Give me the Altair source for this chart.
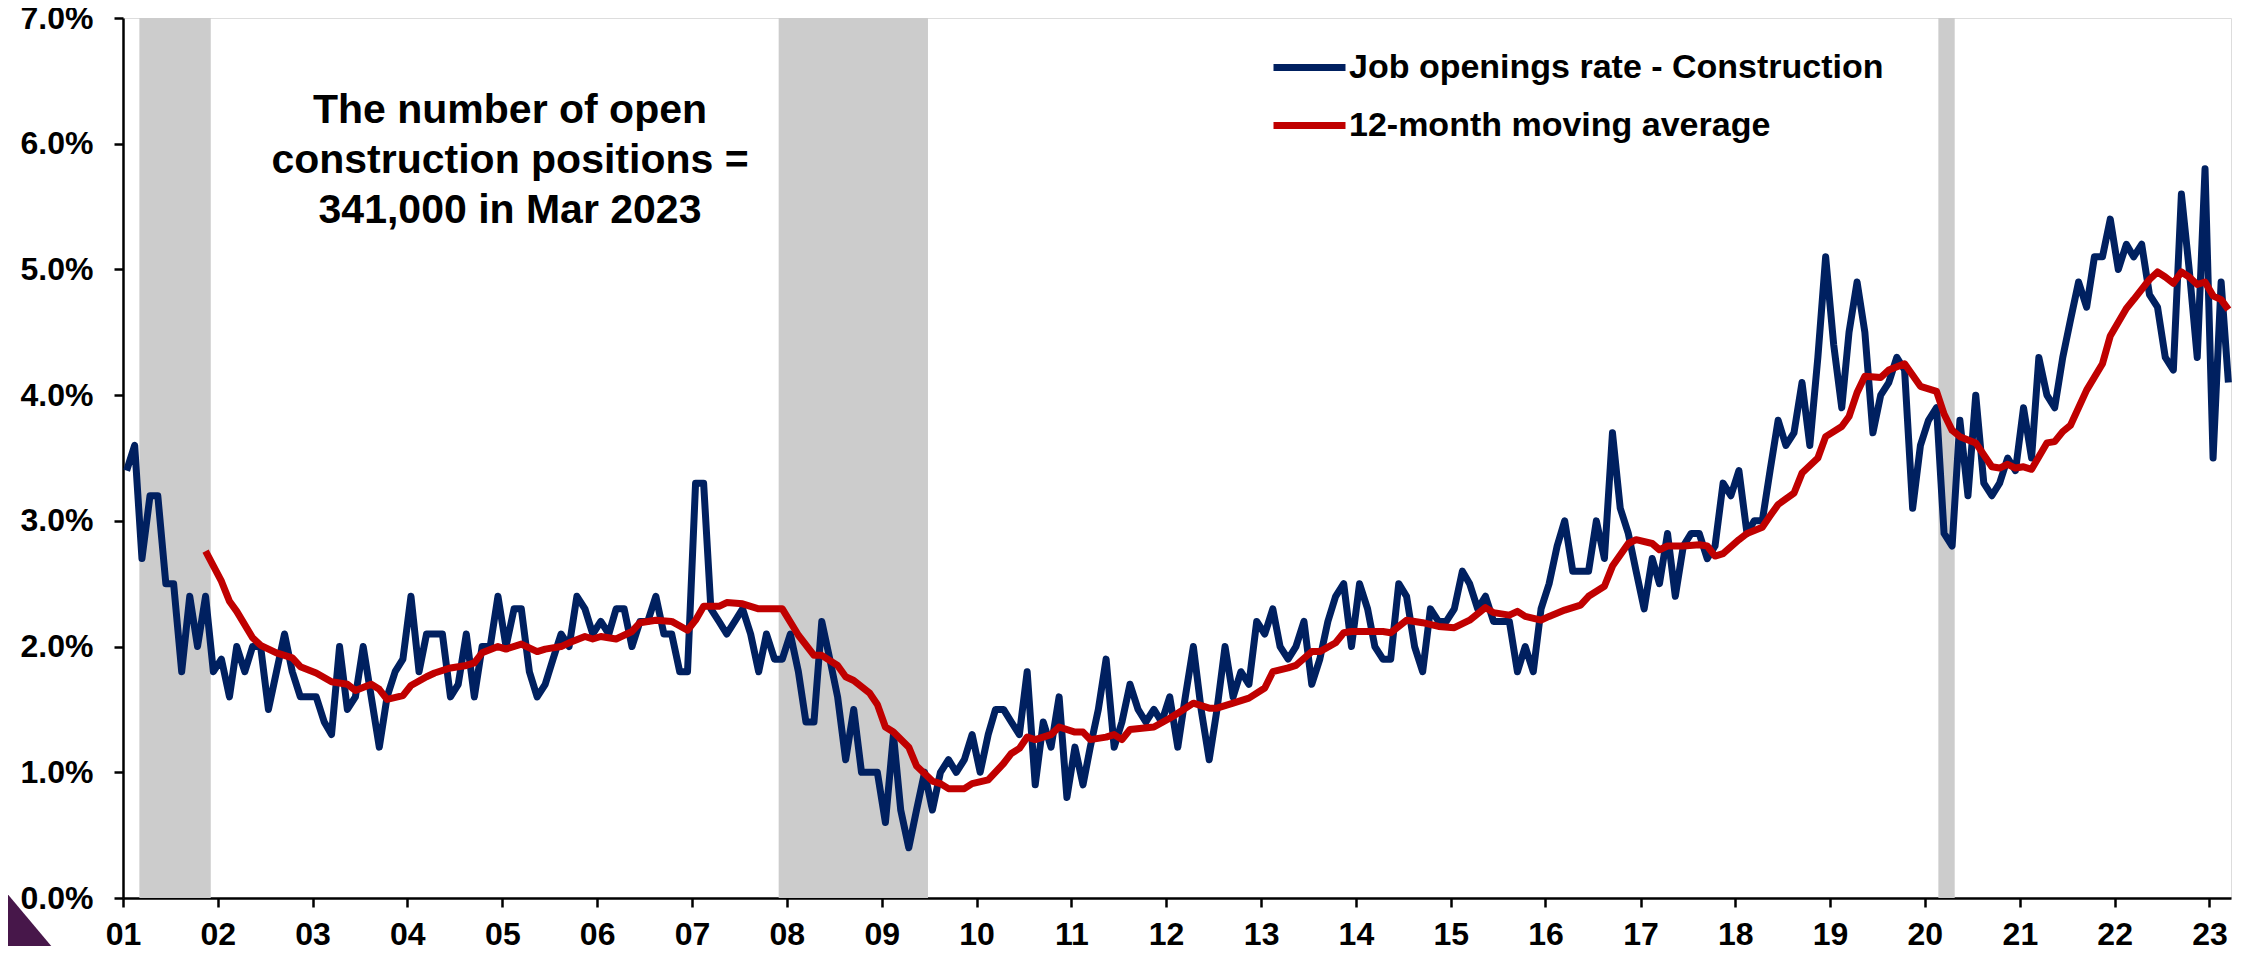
import altair as alt
import pandas as pd

# ---------------- data ----------------
START = "2001-01-01"
blue_values = [
    3.4, 3.6, 2.7, 3.2, 3.2, 2.5, 2.5, 1.8, 2.4, 2.0, 2.4, 1.8,   # 2001
    1.9, 1.6, 2.0, 1.8, 2.0, 2.0, 1.5, 1.8, 2.1, 1.8, 1.6, 1.6,   # 2002
    1.6, 1.4, 1.3, 2.0, 1.5, 1.6, 2.0, 1.6, 1.2, 1.6, 1.8, 1.9,   # 2003
    2.4, 1.8, 2.1, 2.1, 2.1, 1.6, 1.7, 2.1, 1.6, 2.0, 2.0, 2.4,   # 2004
    2.0, 2.3, 2.3, 1.8, 1.6, 1.7, 1.9, 2.1, 2.0, 2.4, 2.3, 2.1,   # 2005
    2.2, 2.1, 2.3, 2.3, 2.0, 2.2, 2.2, 2.4, 2.1, 2.1, 1.8, 1.8,   # 2006
    3.3, 3.3, 2.3, 2.2, 2.1, 2.2, 2.3, 2.1, 1.8, 2.1, 1.9, 1.9,   # 2007
    2.1, 1.8, 1.4, 1.4, 2.2, 1.9, 1.6, 1.1, 1.5, 1.0, 1.0, 1.0,   # 2008
    0.6, 1.3, 0.7, 0.4, 0.7, 1.0, 0.7, 1.0, 1.1, 1.0, 1.1, 1.3,   # 2009
    1.0, 1.3, 1.5, 1.5, 1.4, 1.3, 1.8, 0.9, 1.4, 1.2, 1.6, 0.8,   # 2010
    1.2, 0.9, 1.2, 1.5, 1.9, 1.2, 1.4, 1.7, 1.5, 1.4, 1.5, 1.4,   # 2011
    1.6, 1.2, 1.6, 2.0, 1.5, 1.1, 1.5, 2.0, 1.6, 1.8, 1.7, 2.2,   # 2012
    2.1, 2.3, 2.0, 1.9, 2.0, 2.2, 1.7, 1.9, 2.2, 2.4, 2.5, 2.0,   # 2013
    2.5, 2.3, 2.0, 1.9, 1.9, 2.5, 2.4, 2.0, 1.8, 2.3, 2.2, 2.2,   # 2014
    2.3, 2.6, 2.5, 2.3, 2.4, 2.2, 2.2, 2.2, 1.8, 2.0, 1.8, 2.3,   # 2015
    2.5, 2.8, 3.0, 2.6, 2.6, 2.6, 3.0, 2.7, 3.7, 3.1, 2.9, 2.6,   # 2016
    2.3, 2.7, 2.5, 2.9, 2.4, 2.8, 2.9, 2.9, 2.7, 2.8, 3.3, 3.2,   # 2017
    3.4, 2.9, 3.0, 3.0, 3.4, 3.8, 3.6, 3.7, 4.1, 3.6, 4.3, 5.1,   # 2018
    4.4, 3.9, 4.5, 4.9, 4.5, 3.7, 4.0, 4.1, 4.3, 4.2, 3.1, 3.6,   # 2019
    3.8, 3.9, 2.9, 2.8, 3.8, 3.2, 4.0, 3.3, 3.2, 3.3, 3.5, 3.4,   # 2020
    3.9, 3.5, 4.3, 4.0, 3.9, 4.3, 4.6, 4.9, 4.7, 5.1, 5.1, 5.4,   # 2021
    5.0, 5.2, 5.1, 5.2, 4.8, 4.7, 4.3, 4.2, 5.6, 5.0, 4.3, 5.8,   # 2022
    3.5, 4.9, 4.1,                                                # 2023
]

ma_months = [
    10, 12, 13, 14, 16, 17, 19, 21, 22, 24, 26, 28, 29, 31, 32, 33, 35, 36, 38, 39,
    41, 43, 44, 45, 47, 48, 50, 52, 53, 55, 56, 58, 59, 60, 62, 64, 65, 67, 69, 71,
    72, 73, 75, 76, 78, 80, 83, 85, 87, 88, 90, 91, 92, 94, 95, 96, 97, 99, 100, 102,
    103, 104, 106, 107, 109, 111, 112, 113, 114, 115, 117, 118, 120, 121, 122, 124, 125, 126, 127, 130,
    132, 133, 135, 137, 138, 140, 142, 144, 145, 147, 148, 150, 151, 153, 154, 155, 157, 159, 160, 162,
    164, 166, 168, 170, 172, 173, 175, 176, 177, 179, 180, 182, 184, 185, 187, 188, 190, 191, 193, 194,
    195, 197, 199, 200, 201, 202, 204, 205, 207, 208, 209, 211, 212, 214, 215, 217, 218, 219, 220, 222,
    223, 225, 227, 229, 230, 231, 232, 234, 236, 237, 238, 239, 240, 241, 243, 244, 245, 246, 248, 250,
    251, 253, 254, 256, 257, 258, 259, 260, 261, 262, 263, 264, 265, 266,
]
ma_values = [
    2.76, 2.52, 2.36, 2.28, 2.07, 2.01, 1.95, 1.91, 1.84, 1.79, 1.72, 1.70, 1.65, 1.70, 1.66, 1.58, 1.61, 1.69, 1.76, 1.79,
    1.83, 1.85, 1.87, 1.95, 2.00, 1.98, 2.02, 1.96, 1.98, 2.00, 2.03, 2.08, 2.06, 2.08, 2.06, 2.12, 2.19, 2.21, 2.20, 2.13,
    2.21, 2.32, 2.32, 2.35, 2.34, 2.30, 2.30, 2.09, 1.93, 1.93, 1.85, 1.76, 1.73, 1.63, 1.54, 1.36, 1.32, 1.20, 1.05, 0.93,
    0.91, 0.87, 0.87, 0.91, 0.94, 1.07, 1.15, 1.19, 1.28, 1.26, 1.30, 1.36, 1.32, 1.32, 1.26, 1.28, 1.30, 1.26, 1.34, 1.36,
    1.43, 1.47, 1.55, 1.51, 1.51, 1.55, 1.59, 1.67, 1.80, 1.83, 1.85, 1.96, 1.96, 2.03, 2.11, 2.12, 2.12, 2.12, 2.11, 2.21,
    2.19, 2.16, 2.15, 2.21, 2.31, 2.27, 2.25, 2.28, 2.24, 2.21, 2.24, 2.29, 2.33, 2.40, 2.48, 2.64, 2.82, 2.85, 2.82, 2.77,
    2.80, 2.80, 2.81, 2.80, 2.72, 2.74, 2.85, 2.90, 2.95, 3.04, 3.13, 3.22, 3.38, 3.50, 3.67, 3.75, 3.83, 4.02, 4.15, 4.14,
    4.20, 4.25, 4.07, 4.03, 3.85, 3.72, 3.67, 3.62, 3.43, 3.42, 3.45, 3.42, 3.43, 3.41, 3.62, 3.63, 3.71, 3.76, 4.04, 4.25,
    4.47, 4.69, 4.76, 4.92, 4.98, 4.94, 4.89, 4.98, 4.94, 4.88, 4.90, 4.79, 4.76, 4.68,
]

recession_start = ["2001-03-05", "2007-12-01", "2020-02-22"]
recession_end = ["2001-12-05", "2009-06-28", "2020-04-25"]

year_ticks = list(range(2001, 2024))
y_ticks = [0, 1, 2, 3, 4, 5, 6, 7]

BLUE_NAME = "Job openings rate - Construction"
RED_NAME = "12-month moving average"
annotation = ["The number of open", "construction positions =", "341,000 in Mar 2023"]

# ---------------- frames ----------------
base = pd.Timestamp(START)
blue_df = pd.DataFrame({
    "date": [(base + pd.DateOffset(months=i) + pd.Timedelta(days=14)).strftime("%Y-%m-%d")
             for i in range(len(blue_values))],
    "value": blue_values,
    "series": BLUE_NAME,
})
red_df = pd.DataFrame({
    "date": [(base + pd.DateOffset(months=m) + pd.Timedelta(days=14)).strftime("%Y-%m-%d")
             for m in ma_months],
    "value": ma_values,
    "series": RED_NAME,
})
rec_df = pd.DataFrame({"start": recession_start, "end": recession_end})

FONT = "Liberation Sans, Arial, Helvetica, sans-serif"
W, H = 2108, 880

xscale = alt.Scale(domain=["2001-01-01", "2023-03-25"], nice=False)
yscale = alt.Scale(domain=[0, 7], nice=False, zero=True)
color_scale = alt.Scale(domain=[BLUE_NAME, RED_NAME], range=["#002060", "#C00000"])

x_axis = alt.Axis(
    values=[alt.DateTime(year=y, month=1, date=1) for y in year_ticks],
    format="%y", title=None, grid=False,
    labelFont=FONT, labelFontSize=32, labelFontWeight="bold", labelColor="black",
    labelPadding=12, labelFlush=False, labelOverlap=False,
    domainColor="black", domainWidth=2.5, tickColor="black", tickWidth=2.5, tickSize=9,
)
y_axis = alt.Axis(
    values=y_ticks, labelExpr="format(datum.value, '.1f') + '%'", title=None,
    grid=False, labelFont=FONT, labelFontSize=32, labelFontWeight="bold",
    labelColor="black", labelPadding=21,
    domainColor="black", domainWidth=2.5, tickColor="black", tickWidth=2.5, tickSize=9,
)

legend = alt.Legend(
    title=None, orient="none", legendX=1147, legendY=10,
    symbolType="stroke", symbolSize=5184, symbolStrokeWidth=7,
    labelFont=FONT, labelFontSize=34, labelFontWeight="bold", labelColor="black",
    labelLimit=0, rowPadding=1, labelOffset=0, padding=0,
)

bands = alt.Chart(rec_df).mark_rect(color="#CCCCCC", opacity=1).encode(
    x=alt.X("start:T", scale=xscale, axis=x_axis),
    x2="end:T",
    y=alt.value(0),
    y2=alt.value(H),
)

blue = alt.Chart(blue_df).mark_line(strokeWidth=7, strokeJoin="round").encode(
    x=alt.X("date:T", scale=xscale, axis=x_axis),
    y=alt.Y("value:Q", scale=yscale, axis=y_axis),
    color=alt.Color("series:N", scale=color_scale, legend=legend),
)

red = alt.Chart(red_df).mark_line(strokeWidth=7, strokeJoin="round").encode(
    x=alt.X("date:T", scale=xscale, axis=x_axis),
    y=alt.Y("value:Q", scale=yscale, axis=y_axis),
    color=alt.Color("series:N", scale=color_scale, legend=legend),
)

note = alt.Chart(pd.DataFrame({"t": [annotation]})).mark_text(
    font=FONT, fontSize=41, fontWeight="bold", color="black",
    align="center", baseline="middle", lineHeight=50,
).encode(text="t", x=alt.value(387), y=alt.value(93))

# decorative corner triangle (page furniture, not data)
corner = alt.Chart(pd.DataFrame({"k": [0]})).mark_point(
    shape="M-1,-1 L0.68,1 L-1,1 Z", filled=True, opacity=1, color="#47174A", size=5776,
).encode(x=alt.value(-85), y=alt.value(905))

chart = alt.layer(bands, blue, red, note, corner).properties(
    width=W, height=H,
    padding={"left": 115, "top": 10, "right": 18, "bottom": 48},
    autosize="none",
).configure_view(
    stroke="#A6A6A6", strokeWidth=2,
).configure(background="white")

chart.save("out.html", embed_options={"renderer": "svg", "actions": False})
